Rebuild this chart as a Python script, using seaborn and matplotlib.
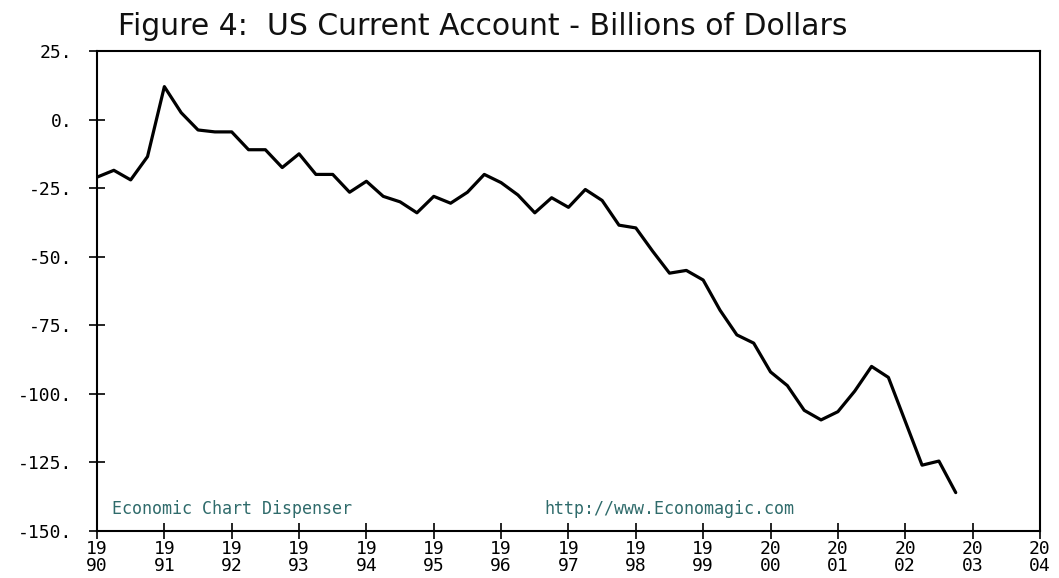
import pandas as pd
import matplotlib
matplotlib.use('Agg')
import matplotlib.pyplot as plt
import seaborn as sns
import numpy as np

# Quarterly US current account balance, billions of dollars, 1990Q1 - 2002Q4
years = list(range(1990, 2003))
quarters = [1, 2, 3, 4]
values = [
    -21.0, -18.5, -22.0, -13.5,     # 1990
    12.0, 2.5, -3.8, -4.5,          # 1991
    -4.5, -11.0, -11.0, -17.5,      # 1992
    -12.5, -20.0, -20.0, -26.5,     # 1993
    -22.5, -28.0, -30.0, -34.0,     # 1994
    -28.0, -30.5, -26.5, -20.0,     # 1995
    -23.0, -27.5, -34.0, -28.5,     # 1996
    -32.0, -25.5, -29.5, -38.5,     # 1997
    -39.5, -48.0, -56.0, -55.0,     # 1998
    -58.5, -69.5, -78.5, -81.5,     # 1999
    -92.0, -97.0, -106.0, -109.5,   # 2000
    -106.5, -99.0, -90.0, -94.0,    # 2001
    -110.0, -126.0, -124.5, -136.0, # 2002
]
y_ticks = [25, 0, -25, -50, -75, -100, -125, -150]
x_tick_years = list(range(1990, 2005))

df = pd.DataFrame({
    'year': [y for y in years for q in quarters],
    'quarter': [q for y in years for q in quarters],
    'value': values,
})
df['date'] = df['year'] + (df['quarter'] - 1) / 4.0

sns.set_style('white')
plt.rcParams['font.family'] = ['DejaVu Sans']

fig = plt.figure(figsize=(10.59, 5.78), dpi=100)
ax = fig.add_axes([0.0916, 0.0813, 0.8904, 0.8305])

sns.lineplot(data=df, x='date', y='value', ax=ax, color='black', linewidth=2.3)

ax.set_xlim(1990, 2004)
ax.set_ylim(-150, 25)
ax.set_xticks(x_tick_years)
ax.set_xticklabels([f'{str(y)[:2]}\n{str(y)[2:]}' for y in x_tick_years],
                   family='DejaVu Sans Mono', fontsize=13, linespacing=0.9)
ax.set_yticks(y_ticks)
ax.set_yticklabels([f'{v}.' for v in y_ticks], family='DejaVu Sans Mono', fontsize=13)
ax.tick_params(axis='both', direction='inout', length=11, width=1.2, colors='black',
               bottom=True, left=True, top=False, right=False)
ax.tick_params(axis='x', pad=1)
ax.tick_params(axis='y', pad=12)
ax.set_xlabel('')
ax.set_ylabel('')
for s in ax.spines.values():
    s.set_color('black')
    s.set_linewidth(1.5)

fig.text(0.111, 0.955, 'Figure 4:  US Current Account - Billions of Dollars',
         family='DejaVu Sans', fontsize=21.5, va='center', ha='left', color='#111111')

ax.text(0.016, 0.045, 'Economic Chart Dispenser', transform=ax.transAxes,
        family='DejaVu Sans Mono', fontsize=12, color='#2f6b6b', ha='left', va='center')
ax.text(0.474, 0.045, 'http://www.Economagic.com', transform=ax.transAxes,
        family='DejaVu Sans Mono', fontsize=12, color='#2f6b6b', ha='left', va='center')

fig.savefig('out.png', dpi=100)
